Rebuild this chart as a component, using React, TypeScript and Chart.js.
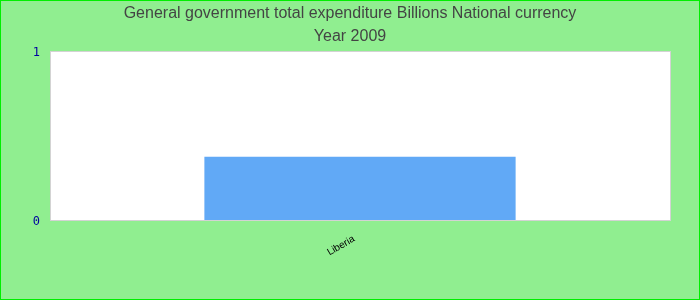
import React, { useEffect, useRef } from "react";
import { Chart, registerables } from "chart.js";

Chart.register(...registerables);

const categories = ["Liberia"];
const values = [0.375];
const titleLines = ["General government total expenditure Billions National currency", "Year 2009"];

const bgPlugin = {
  id: "bgPlugin",
  beforeDraw(chart: any) {
    const { ctx, width, height, chartArea } = chart;
    ctx.save();
    ctx.fillStyle = "#90EE90";
    ctx.fillRect(0, 0, width, height);
    ctx.strokeStyle = "#00ee00";
    ctx.lineWidth = 2;
    ctx.strokeRect(0, 0, width, height);
    ctx.fillStyle = "#ffffff";
    ctx.fillRect(chartArea.left, chartArea.top, chartArea.right - chartArea.left, chartArea.bottom - chartArea.top);
    ctx.restore();
  },
  afterDatasetsDraw(chart: any) {
    const { ctx, chartArea } = chart;
    ctx.save();
    ctx.strokeStyle = "#d3d3d3";
    ctx.lineWidth = 1;
    ctx.strokeRect(chartArea.left + 0.5, chartArea.top + 0.5, chartArea.right - chartArea.left, chartArea.bottom - chartArea.top);
    ctx.restore();
  },
  afterDraw(chart: any) {
    const { ctx, width } = chart;
    ctx.save();
    ctx.fillStyle = "#444444";
    ctx.font = "16px 'Liberation Sans', Arial, sans-serif";
    ctx.textAlign = "center";
    ctx.textBaseline = "middle";
    titleLines.forEach((line, i) => {
      ctx.fillText(line, width / 2, 14 + i * 23);
    });
    ctx.restore();
  },
};

export default function App() {
  const ref = useRef<HTMLCanvasElement>(null);
  useEffect(() => {
    if (!ref.current) return;
    const chart = new Chart(ref.current, {
      type: "bar",
      data: {
        labels: categories,
        datasets: [
          {
            data: values,
            backgroundColor: "#61a9f6",
            borderWidth: 0,
            barPercentage: 0.502,
            categoryPercentage: 1,
          },
        ],
      },
      options: {
        responsive: false,
        animation: false,
        layout: { padding: { left: 0, right: 30, top: 51, bottom: 0 } },
        plugins: {
          legend: { display: false },
          tooltip: { enabled: false },
          title: { display: false },
        },
        scales: {
          x: {
            grid: { display: false },
            border: { display: false },
            ticks: {
              color: "#000000",
              font: { family: "'Liberation Sans', Arial, sans-serif", size: 10 },
              minRotation: 30,
              maxRotation: 30,
              labelOffset: -6,
              padding: 5,
            },
            afterFit(scale: any) {
              scale.height = 80;
            },
          },
          y: {
            min: 0,
            max: 1,
            grid: { display: false },
            border: { display: false },
            ticks: {
              stepSize: 1,
              color: "#0000a0",
              font: { family: "'DejaVu Sans Mono', monospace", size: 12 },
              padding: 2,
              labelOffset: 2,
            },
            afterFit(scale: any) {
              scale.width = 50;
            },
          },
        },
      },
      plugins: [bgPlugin],
    });
    return () => chart.destroy();
  }, []);
  return (
    <canvas
      ref={ref}
      width={700}
      height={300}
      style={{ position: "fixed", left: 0, top: 0, width: 700, height: 300 }}
    />
  );
}
